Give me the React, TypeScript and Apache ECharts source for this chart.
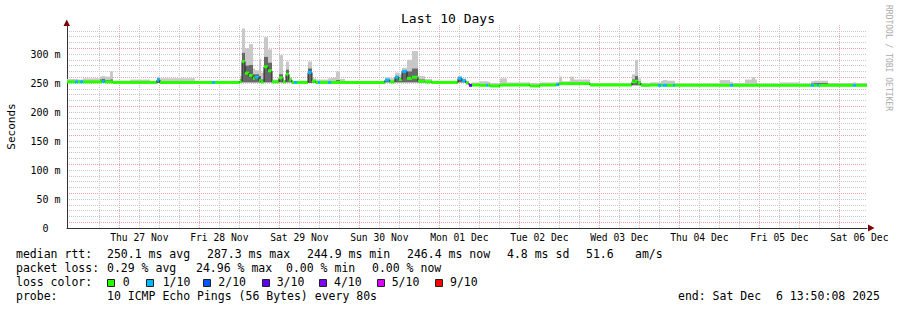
import React, { useEffect, useRef } from "react";
import * as echarts from "echarts";

// ---- time axis (hours since Wed 26 Nov 00:00) ----
const axisStartHour = 14.3;
const axisEndHour = 254.3;
const dayLabels = ["Thu 27 Nov", "Fri 28 Nov", "Sat 29 Nov", "Sun 30 Nov", "Mon 01 Dec", "Tue 02 Dec", "Wed 03 Dec", "Thu 04 Dec", "Fri 05 Dec", "Sat 06 Dec"];
const dayNoonHours = [36, 60, 84, 108, 132, 156, 180, 204, 228, 252];
const yTickValues = [0, 50, 100, 150, 200, 250, 300];

// ---- measurement segments (each holds until the next start) ----
const segStartHours = [
  14.3, 16.7, 17.6, 18.2, 19.1, 24.2, 24.8, 25.7, 27.2, 28.1,
  33.2, 39.2, 41.3, 42.2, 52.7, 57.8, 58.7, 66.2, 66.8, 67.7,
  68.9, 70.1, 70.7, 71.9, 72.5, 73.4, 74.6, 75.8, 77.9, 79.1,
  80.0, 80.9, 81.8, 82.4, 83.3, 86.6, 87.8, 89.0, 89.6, 90.2,
  92.6, 93.5, 95.0, 96.2, 97.7, 109.7, 111.2, 112.7, 113.9, 114.8,
  116.3, 117.8, 119.6, 121.7, 123.8, 131.6, 132.8, 134.0, 134.9, 135.8,
  138.2, 140.0, 140.6, 141.2, 144.2, 146.3, 153.2, 156.2, 161.0, 161.9,
  162.8, 165.2, 166.4, 171.2, 183.8, 184.7, 185.6, 186.5, 189.2, 191.6,
  192.5, 193.1, 194.3, 196.1, 196.7, 210.2, 213.2, 214.1, 217.7, 219.8,
  220.7, 221.3, 228.2, 234.2, 237.5, 238.4, 239.3, 239.9, 242.6, 250.1,
  251.0,
];
const medianRtt = [
  252, 252, 252, 252, 252, 252, 253, 252, 252, 251,
  251, 251, 255, 251, 251, 251, 251, 253, 287, 267,
  263, 258, 260, 254, 252, 278, 271, 252, 259, 252,
  265, 255, 251, 251, 251, 268, 253, 251, 251, 251,
  251, 251, 251, 251, 251, 255, 252, 260, 256, 270,
  258, 260, 253, 252, 251, 258, 254, 250, 246, 246.5,
  246, 246, 246, 245, 246.5, 246.5, 245, 246.5, 247, 249,
  249, 249, 249, 246.5, 252, 253, 250, 246, 246.5, 246,
  246, 246, 246, 246, 246, 246, 246, 246, 246, 246,
  246, 246, 246, 246, 246, 246, 246, 246, 246, 246,
  246,
];
const smokeLow = [
  251, 251, 251, 251, 251, 251, 251, 251, 251, 250,
  250, 250, 250, 250, 250, 250, 250, 251, 251, 251,
  251, 251, 251, 251, 251, 251, 251, 251, 251, 251,
  251, 251, 250, 250, 250, 250, 250, 250, 250, 250,
  250, 250, 250, 250, 250, 251, 251, 251, 251, 251,
  251, 251, 251, 251, 250, 251, 251, 249, 245, 245.5,
  245, 245, 245, 244, 245.5, 245.5, 244, 245.5, 246, 247,
  247, 247, 247, 245.5, 246, 246, 246, 245, 245.5, 245,
  245, 245, 245, 245, 245, 245, 245, 245, 245, 245,
  245, 245, 245, 245, 245, 245, 245, 245, 245, 245,
  245,
];
const smokeHigh = [
  257, 257, 256, 256, 258, 261, 262, 261, 270, 254,
  256, 253, 261, 258, 253, 253, 253, 262, 344, 310,
  317, 275, 272, 292, 268, 329, 308, 256, 298, 255,
  287, 260, 253, 253, 254, 287, 258, 256, 256, 256,
  258, 259, 270, 257, 253, 260, 258, 268, 265, 276,
  290, 305, 262, 257, 253, 262, 258, 254, 248, 251,
  253, 253, 252, 250, 258, 251, 250, 251, 252, 261,
  253, 261, 256, 250, 265, 290, 258, 250, 251, 251,
  254, 255, 254, 254, 249, 255, 252, 250, 256, 260,
  256, 249, 251, 249, 253, 254, 254, 254, 250, 251,
  250,
];
const smokeDark = [
  252, 252, 252, 252, 252, 256, 257, 255, 256, 251,
  251, 251, 258, 252, 251, 251, 251, 256, 302, 280,
  281, 265, 265, 262, 256, 295, 285, 252, 265, 252,
  273, 256, 251, 251, 251, 275, 254, 251, 251, 251,
  252, 252, 255, 252, 251, 256, 253, 262, 259, 272,
  270, 275, 256, 252, 251, 259, 255, 250, 246, 246.5,
  247, 247, 246, 245, 248, 246.5, 245, 246.5, 247, 250,
  249, 250, 249, 246.5, 256, 262, 252, 246, 246.5, 246,
  247, 247, 247, 247, 246, 247, 246, 246, 247, 248,
  247, 246, 246, 246, 249, 250, 250, 250, 246, 246,
  246,
];
const lossCount = [
  0, 1, 0, 1, 0, 0, 1, 0, 0, 0,
  0, 0, 1, 0, 0, 1, 0, 0, 0, 0,
  0, 0, 1, 0, 0, 0, 0, 0, 0, 0,
  0, 0, 0, 1, 0, 1, 0, 0, 1, 0,
  1, 0, 0, 0, 0, 1, 0, 1, 0, 1,
  0, 0, 0, 0, 0, 1, 1, 0, 3, 0,
  0, 1, 0, 0, 0, 0, 0, 0, 1, 0,
  0, 0, 0, 0, 0, 0, 0, 0, 0, 1,
  0, 1, 0, 1, 0, 0, 1, 0, 0, 0,
  0, 0, 0, 0, 1, 0, 1, 0, 0, 1,
  0,
];

// ---- legend texts ----
const rttStats = ["250.1 ms avg", "287.3 ms max", "244.9 ms min", "246.4 ms now", "4.8 ms sd"];
const lossStats = ["0.29 % avg", "24.96 % max", "0.00 % min", "0.00 % now"];
const lossLegendLabels = ["0", "1/10", "2/10", "3/10", "4/10", "5/10", "9/10"];
const lossLegendColors = ["#26ff00", "#00b8ff", "#0059ff", "#5e00ff", "#7e00ff", "#dd00ff", "#ff0000"];
const probeText = "10 ICMP Echo Pings (56 Bytes) every 80s";

// layout (pixels) for the legend pieces
const rttStatX = [107, 207, 307, 407, 507];
const lossStatX = [107, 196, 286, 372];
const lossBoxX = [107, 146, 203, 262, 319, 377, 435];
const lossLabelX = [122.7, 162.7, 218.3, 276.7, 334, 391.7, 450];

const mono = '"DejaVu Sans Mono", monospace';
const minorGrid = "#c8c8c8";
const majorGrid = "#eba3a3";

function lossColor(n: number): string {
  if (n <= 0) return lossLegendColors[0];
  if (n <= 4) return lossLegendColors[n];
  if (n <= 8) return lossLegendColors[5];
  return lossLegendColors[6];
}

function txt(text: string, x: number, y: number, size: number, extra: any = {}) {
  return {
    type: "text",
    x,
    y,
    silent: true,
    style: {
      text,
      fontSize: size,
      fontFamily: mono,
      fill: "#000",
      align: "left",
      verticalAlign: "middle",
      textAlign: "left",
      textVerticalAlign: "middle",
      ...extra,
    },
  };
}

function buildOption(): any {
  const n = segStartHours.length;
  const segEnd = (i: number) => (i + 1 < n ? segStartHours[i + 1] : axisEndHour);
  const smokeItems = segStartHours.map((t, i) => [t, segEnd(i), smokeLow[i], smokeHigh[i], smokeDark[i]]);
  const medianItems = segStartHours.map((t, i) => [t, segEnd(i), medianRtt[i], i > 0 ? medianRtt[i - 1] : medianRtt[i], lossCount[i]]);

  // vertical grid every 6 hours (midnights are major)
  const sixHourMarks: number[] = [];
  for (let h = 18; h < axisEndHour; h += 6) sixHourMarks.push(h);

  const graphics: any[] = [];
  graphics.push(txt("Last 10 Days", 448, 18.5, 13, { align: "center", textAlign: "center" }));
  graphics.push({
    type: "text",
    x: 888,
    y: 5,
    rotation: -Math.PI / 2,
    silent: true,
    style: { text: "RRDTOOL / TOBI OETIKER", fontSize: 8, fontFamily: mono, fill: "#aaaaaa", align: "left", verticalAlign: "middle", textAlign: "left", textVerticalAlign: "middle" },
  });
  graphics.push({ type: "polygon", silent: true, z: 20, shape: { points: [[63.5, 26], [70, 26], [66.75, 19.5]] }, style: { fill: "#7f0000" } });
  graphics.push({ type: "polygon", silent: true, z: 20, shape: { points: [[868, 224.5], [868, 231.5], [874.5, 228]] }, style: { fill: "#7f0000" } });

  const l1 = 253.7, l2 = 267.7, l3 = 281.7, l4 = 295.7, fs = 11.5;
  graphics.push(txt("median rtt:", 16, l1, fs));
  rttStats.forEach((s, i) => graphics.push(txt(s, rttStatX[i], l1, fs)));
  graphics.push(txt("51.6", 586, l1, fs));
  graphics.push(txt("am/s", 635, l1, fs));
  graphics.push(txt("packet loss:", 16, l2, fs));
  lossStats.forEach((s, i) => graphics.push(txt(s, lossStatX[i], l2, fs)));
  graphics.push(txt("loss color:", 16, l3, fs));
  lossLegendLabels.forEach((s, i) => {
    graphics.push({ type: "rect", silent: true, shape: { x: lossBoxX[i] + 0.5, y: 279.5, width: 7, height: 7 }, style: { fill: lossLegendColors[i], stroke: "#222", lineWidth: 1 } });
    graphics.push(txt(s, lossLabelX[i], l3, fs));
  });
  graphics.push(txt("probe:", 16, l4, fs));
  graphics.push(txt(probeText, 107, l4, fs));
  graphics.push(txt("end: Sat Dec", 678, l4, fs));
  graphics.push(txt("6 13:50:08 2025", 776, l4, fs));

  return {
    animation: false,
    backgroundColor: "#ffffff",
    textStyle: { fontFamily: mono },
    grid: { left: 67, right: 30, top: 25, bottom: 82, containLabel: false, outerBoundsMode: "none" },
    xAxis: {
      type: "value",
      min: axisStartHour,
      max: axisEndHour,
      axisLine: { show: true, lineStyle: { color: "#333333", width: 1 } },
      axisTick: { show: false, customValues: sixHourMarks },
      splitLine: {
        show: true,
        showMinLine: false,
        showMaxLine: false,
        lineStyle: { color: [minorGrid, majorGrid, minorGrid, minorGrid], type: [1, 1], width: 1 },
      },
      axisLabel: {
        customValues: dayNoonHours,
        formatter: (v: number) => {
          const i = dayNoonHours.indexOf(Math.round(v));
          return i >= 0 ? dayLabels[i] : "";
        },
        color: "#000",
        fontFamily: mono,
        fontSize: 9.7,
        margin: 9,
        verticalAlign: "middle",
        hideOverlap: false,
      },
    },
    yAxis: {
      type: "value",
      min: 0,
      max: 350,
      interval: 10,
      name: "Seconds",
      nameLocation: "middle",
      nameRotate: 90,
      nameGap: 50,
      nameTextStyle: { fontFamily: mono, fontSize: 11, color: "#000" },
      axisLine: { show: true, lineStyle: { color: "#333333", width: 1 } },
      axisTick: { show: false },
      splitLine: {
        show: true,
        showMinLine: false,
        showMaxLine: false,
        lineStyle: { color: [majorGrid, minorGrid, minorGrid, minorGrid, minorGrid], type: [1, 1], width: 1 },
      },
      axisLabel: {
        customValues: yTickValues,
        formatter: (v: number) => (v === 0 ? "{z|0}" : `${v} m`),
        rich: { z: { padding: [0, 12, 0, 0], fontFamily: mono, fontSize: 10, color: "#000" } },
        color: "#000",
        fontFamily: mono,
        fontSize: 10,
        margin: 6.5,
      },
    },
    graphic: graphics,
    series: [
      {
        type: "custom",
        z: 10,
        silent: true,
        clip: true,
        encode: { x: [0, 1], y: [2, 3] },
        data: smokeItems,
        renderItem: (params: any, api: any) => {
          const t0 = api.value(0), t1 = api.value(1);
          const lo = api.coord([t0, api.value(2)]);
          const hi = api.coord([t1, api.value(3)]);
          const dk = api.coord([t1, api.value(4)]);
          const w = hi[0] - lo[0];
          return {
            type: "group",
            children: [
              { type: "rect", shape: { x: lo[0], y: hi[1], width: w, height: Math.max(0, lo[1] - hi[1]) }, style: { fill: "#c8c8c8" } },
              { type: "rect", shape: { x: lo[0], y: dk[1], width: w, height: Math.max(0, lo[1] - dk[1]) }, style: { fill: "#686868" } },
            ],
          };
        },
      },
      {
        type: "custom",
        z: 11,
        silent: true,
        clip: true,
        encode: { x: [0, 1], y: [2, 3] },
        data: medianItems,
        renderItem: (params: any, api: any) => {
          const t0 = api.value(0), t1 = api.value(1);
          const p = api.coord([t0, api.value(3)]);
          const a = api.coord([t0, api.value(2)]);
          const b = api.coord([t1, api.value(2)]);
          return {
            type: "group",
            children: [
              { type: "line", shape: { x1: a[0], y1: p[1], x2: a[0], y2: a[1] }, style: { stroke: "#202020", lineWidth: 1 } },
              { type: "line", shape: { x1: a[0], y1: a[1], x2: b[0], y2: b[1] }, style: { stroke: lossColor(api.value(4)), lineWidth: 3 } },
            ],
          };
        },
      },
    ],
  };
}

export default function App() {
  const ref = useRef<HTMLDivElement>(null);
  useEffect(() => {
    if (!ref.current) return;
    const chart = echarts.init(ref.current, null, { renderer: "svg" });
    chart.setOption(buildOption());
    return () => chart.dispose();
  }, []);
  return (
    <div
      ref={ref}
      style={{ position: "fixed", left: 0, top: 0, width: 897, height: 310, background: "#ffffff" }}
    />
  );
}
